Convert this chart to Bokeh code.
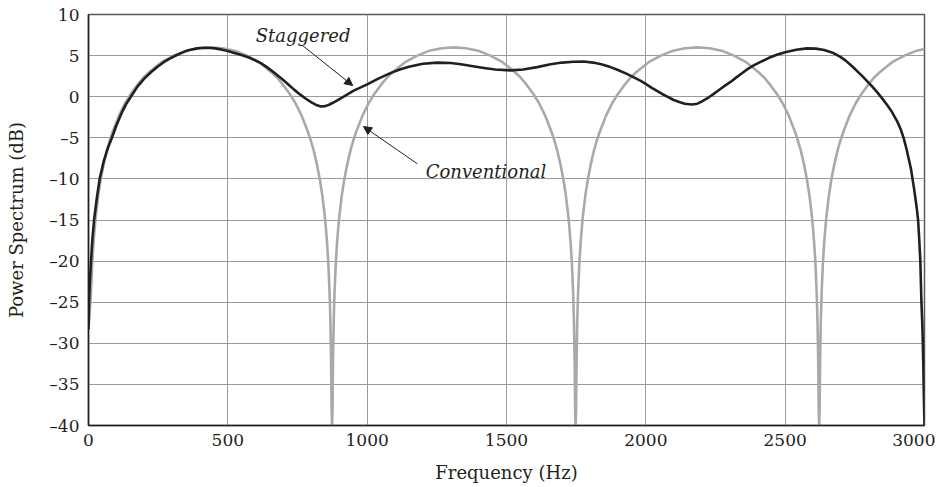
from bokeh.plotting import figure
from bokeh.models import Range1d, FixedTicker, Label, Arrow, NormalHead
from bokeh.embed import file_html
from bokeh.resources import INLINE

# ---- data ----
freq_conventional = [
    # lobe 1
    0, 8.7, 13.1, 17.5, 21.9, 26.2, 35.0, 43.7, 54.6, 65.6, 76.5, 87.4, 109.3, 131.1, 153.0,
    174.8, 196.7, 218.5, 240.4, 262.2, 305.9, 349.6, 393.3, 437.0, 480.7, 524.4, 568.1, 611.8,
    633.7, 655.5, 677.4, 699.2, 721.1, 742.9, 764.8, 786.6, 797.5, 808.5, 819.4, 830.3, 839.0,
    847.8, 852.2, 856.5, 861.0, 865.3, 867.9, 870.5, 872.3, 874,
    # lobe 2
    875.7, 877.5, 880.1, 882.7, 887.1, 891.5, 895.9, 900.2, 909.0, 917.7, 928.6, 939.6, 950.5,
    961.4, 983.3, 1005.1, 1027.0, 1048.8, 1070.7, 1092.5, 1114.4, 1136.2, 1179.9, 1223.6, 1267.3,
    1311.0, 1354.7, 1398.4, 1442.1, 1485.8, 1507.7, 1529.5, 1551.4, 1573.2, 1595.1, 1616.9, 1638.8,
    1660.6, 1671.5, 1682.5, 1693.4, 1704.3, 1713.0, 1721.8, 1726.2, 1730.5, 1735.0, 1739.3, 1741.9,
    1744.5, 1746.3, 1748,
    # lobe 3
    1749.7, 1751.5, 1754.1, 1756.7, 1761.1, 1765.5, 1769.9, 1774.2, 1783.0, 1791.7, 1802.6, 1813.6,
    1824.5, 1835.4, 1857.3, 1879.1, 1901.0, 1922.8, 1944.7, 1966.5, 1988.4, 2010.2, 2053.9, 2097.6,
    2141.3, 2185.0, 2228.7, 2272.4, 2316.1, 2359.8, 2381.7, 2403.5, 2425.4, 2447.2, 2469.1, 2490.9,
    2512.8, 2534.6, 2545.5, 2556.5, 2567.4, 2578.3, 2587.0, 2595.8, 2600.2, 2604.5, 2609.0, 2613.3,
    2615.9, 2618.5, 2620.3, 2622,
    # lobe 4
    2623.7, 2625.5, 2628.1, 2630.7, 2635.1, 2639.5, 2643.9, 2648.2, 2657.0, 2665.7, 2676.6, 2687.6,
    2698.5, 2709.4, 2731.3, 2753.1, 2775.0, 2796.8, 2818.7, 2840.5, 2862.4, 2884.2, 2927.9, 2971.6,
    3000,
]
db_conventional = [
    # lobe 1
    -28.3, -24.0, -20.5, -18.0, -16.1, -14.5, -12.0, -10.1, -8.2, -6.6, -5.3, -4.2, -2.3, -0.8, 0.4,
    1.4, 2.3, 3.0, 3.6, 4.2, 5.0, 5.6, 5.9, 6.0, 5.9, 5.6, 5.0, 4.2,
    3.6, 3.0, 2.3, 1.4, 0.4, -0.8, -2.3, -4.2, -5.3, -6.6, -8.2, -10.1, -12.0,
    -14.5, -16.1, -18.0, -20.5, -24.0, -27.1, -32.0, -38.0, -40,
    # lobe 2
    -38.0, -32.0, -27.1, -24.0, -20.5, -18.0, -16.1, -14.5, -12.0, -10.1, -8.2, -6.6, -5.3,
    -4.2, -2.3, -0.8, 0.4, 1.4, 2.3, 3.0, 3.6, 4.2, 5.0, 5.6, 5.9,
    6.0, 5.9, 5.6, 5.0, 4.2, 3.6, 3.0, 2.3, 1.4, 0.4, -0.8, -2.3,
    -4.2, -5.3, -6.6, -8.2, -10.1, -12.0, -14.5, -16.1, -18.0, -20.5, -24.0, -27.1,
    -32.0, -38.0, -40,
    # lobe 3
    -38.0, -32.0, -27.1, -24.0, -20.5, -18.0, -16.1, -14.5, -12.0, -10.1, -8.2, -6.6,
    -5.3, -4.2, -2.3, -0.8, 0.4, 1.4, 2.3, 3.0, 3.6, 4.2, 5.0, 5.6,
    5.9, 6.0, 5.9, 5.6, 5.0, 4.2, 3.6, 3.0, 2.3, 1.4, 0.4, -0.8,
    -2.3, -4.2, -5.3, -6.6, -8.2, -10.1, -12.0, -14.5, -16.1, -18.0, -20.5, -24.0,
    -27.1, -32.0, -38.0, -40,
    # lobe 4
    -38.0, -32.0, -27.1, -24.0, -20.5, -18.0, -16.1, -14.5, -12.0, -10.1, -8.2, -6.6,
    -5.3, -4.2, -2.3, -0.8, 0.4, 1.4, 2.3, 3.0, 3.6, 4.2, 5.0, 5.6,
    5.8,
]

freq_staggered = [
    0, 2, 5, 9, 14, 20, 30, 40, 55, 70, 84, 100, 120, 135, 152, 175, 200, 225, 250, 270,
    290, 310, 332, 350, 370, 390, 414, 440, 460, 480, 500, 520, 540, 560, 580, 600, 620,
    640, 660, 680, 700, 720, 740, 760, 780, 800, 817, 834, 850, 865, 885, 905, 925, 950,
    975, 1000, 1040, 1085, 1120, 1150, 1200, 1252, 1300, 1336, 1380, 1419, 1460, 1514,
    1560, 1610, 1658, 1700, 1740, 1778, 1810, 1840, 1873, 1900, 1930, 1957, 1980, 2000,
    2020, 2040, 2060, 2077, 2100, 2120, 2140, 2165, 2185, 2200, 2212, 2225, 2240, 2260,
    2280, 2304, 2325, 2345, 2365, 2387, 2410, 2440, 2470, 2500, 2540, 2578, 2610, 2640,
    2670, 2698, 2715, 2730, 2745, 2760, 2777, 2794, 2812, 2830, 2848, 2866, 2884, 2902,
    2915, 2925, 2935, 2945, 2952, 2957, 2963, 2968, 2973, 2977, 2981, 2985, 2987, 2989,
    2992, 2994, 2996, 2997.5, 2999, 3000,
]
db_staggered = [
    -28.3, -25, -22.5, -20, -17.3, -15, -12.3, -10, -7.8, -6.2, -5, -3.5, -1.9, -0.9, 0, 1.2,
    2.2, 3.0, 3.7, 4.2, 4.6, 4.95, 5.3, 5.55, 5.75, 5.88, 5.95, 5.93, 5.85, 5.72, 5.55, 5.35,
    5.15, 4.95, 4.7, 4.4, 4.05, 3.6, 3.1, 2.55, 2.0, 1.4, 0.8, 0.25, -0.25, -0.7, -1.0, -1.2,
    -1.15, -0.95, -0.6, -0.2, 0.2, 0.7, 1.1, 1.5, 2.2, 2.9, 3.35, 3.65, 4.0, 4.15, 4.1, 3.95,
    3.7, 3.5, 3.3, 3.2, 3.3, 3.6, 3.95, 4.15, 4.25, 4.28, 4.15, 3.95, 3.6, 3.25, 2.8, 2.35,
    1.95, 1.55, 1.1, 0.7, 0.3, 0.0, -0.4, -0.65, -0.85, -0.95, -0.85, -0.6, -0.35, -0.1,
    0.25, 0.75, 1.25, 1.8, 2.35, 2.85, 3.35, 3.8, 4.2, 4.7, 5.1, 5.4, 5.72, 5.88, 5.85, 5.68,
    5.35, 4.85, 4.45, 4.0, 3.55, 3.05, 2.5, 1.9, 1.25, 0.55, -0.2, -1.0, -1.9, -3.0, -4.0,
    -5, -6.3, -7.8, -8.9, -10, -11.3, -12.5, -13.8, -15, -17.3, -20, -22.5, -25, -27.5, -30,
    -33, -36, -38.5, -40,
]

x_ticks = [0, 500, 1000, 1500, 2000, 2500, 3000]
x_tick_labels = ["0", "500", "1000", "1500", "2000", "2500", "3000"]
y_ticks = [-40, -35, -30, -25, -20, -15, -10, -5, 0, 5, 10]
y_tick_labels = ["\u201340", "\u201335", "\u201330", "\u201325", "\u201320", "\u201315",
                 "\u201310", "\u20135", "0", "5", "10"]

x_title = "Frequency (Hz)"
y_title = "Power Spectrum (dB)"
label_staggered = "Staggered"
label_conventional = "Conventional"

# ---- styling ----
SERIF = "DejaVu Serif"
INK = "#231f20"
GRAY = "#a7a9ac"
GRID = "#9a9a9a"

p = figure(width=935, height=486, output_backend="svg", toolbar_location=None,
           x_range=Range1d(0, 3000), y_range=Range1d(-40, 10),
           min_border_left=88, min_border_right=11, min_border_top=14, min_border_bottom=61)
p.background_fill_color = "white"
p.border_fill_color = "white"
p.outline_line_color = "#58595b"
p.outline_line_width = 1.5

p.xaxis.ticker = FixedTicker(ticks=x_ticks)
p.yaxis.ticker = FixedTicker(ticks=y_ticks)
p.xaxis.major_label_overrides = dict(zip(x_ticks, x_tick_labels))
p.yaxis.major_label_overrides = dict(zip(y_ticks, y_tick_labels))

for ax in (p.xaxis[0], p.yaxis[0]):
    ax.major_tick_line_color = None
    ax.minor_tick_line_color = None
    ax.major_tick_out = 0
    ax.major_tick_in = 0
    ax.axis_line_color = INK
    ax.axis_line_width = 1.5
    ax.major_label_text_font = SERIF
    ax.major_label_text_font_size = "17px"
    ax.major_label_text_color = INK
    ax.axis_label_text_font = SERIF
    ax.axis_label_text_font_size = "18px"
    ax.axis_label_text_font_style = "normal"
    ax.axis_label_text_color = INK

p.xaxis.axis_label = x_title
p.yaxis.axis_label = y_title
p.xaxis.major_label_standoff = 8
p.xaxis.axis_label_standoff = 13
p.yaxis.major_label_standoff = 9
p.yaxis.axis_label_standoff = 19

p.xgrid.grid_line_color = GRID
p.ygrid.grid_line_color = GRID
p.xgrid.grid_line_width = 1
p.ygrid.grid_line_width = 1

p.line(freq_conventional, db_conventional, line_color=GRAY, line_width=2.6, line_join="round")
p.line(freq_staggered, db_staggered, line_color=INK, line_width=2.6, line_join="round")

# annotations
p.add_layout(Label(x=600, y=7.45, text=label_staggered, text_font=SERIF,
                   text_font_style="italic", text_font_size="18px", text_color=INK,
                   text_baseline="alphabetic", text_align="left"))
p.add_layout(Label(x=1210, y=-9.1, text=label_conventional, text_font=SERIF,
                   text_font_style="italic", text_font_size="18px", text_color=INK,
                   text_baseline="alphabetic", text_align="left"))
p.add_layout(Arrow(end=NormalHead(size=8, fill_color=INK, line_color=INK),
                   x_start=768, y_start=6.23, x_end=948, y_end=1.36,
                   line_color=INK, line_width=1))
p.add_layout(Arrow(end=NormalHead(size=8, fill_color=INK, line_color=INK),
                   x_start=1180, y_start=-8.16, x_end=987, y_end=-3.63,
                   line_color=INK, line_width=1))

open("out.html", "w").write(file_html(p, INLINE))
